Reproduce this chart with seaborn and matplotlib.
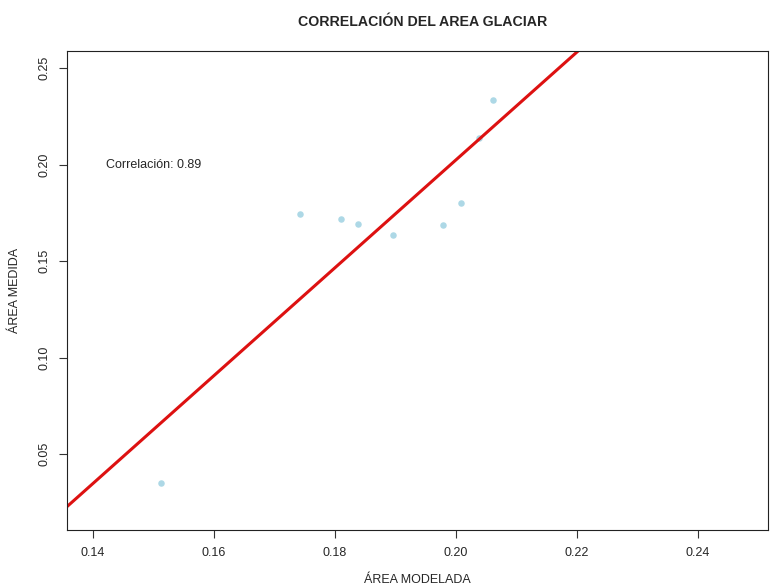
import numpy as np
import pandas as pd
import matplotlib
matplotlib.use("Agg")
import matplotlib.pyplot as plt
import seaborn as sns

# --- DATA ---
area_modelada = [0.1513, 0.1743, 0.1810, 0.1838, 0.1896, 0.1978, 0.2009, 0.2038, 0.2062]
area_medida = [0.0350, 0.1745, 0.1719, 0.1690, 0.1636, 0.1687, 0.1801, 0.2141, 0.2338]
x_ticks = [0.14, 0.16, 0.18, 0.20, 0.22, 0.24]
y_ticks = [0.05, 0.10, 0.15, 0.20, 0.25]
titulo = "CORRELACIÓN DEL AREA GLACIAR"

df = pd.DataFrame({"modelada": area_modelada, "medida": area_medida})
corr = df["modelada"].corr(df["medida"])

sns.set_style("ticks")
plt.rcParams["font.family"] = ["Liberation Sans", "DejaVu Sans"]

fig = plt.figure(figsize=(7.72, 5.87), dpi=100)
ax = fig.add_axes([0.0864, 0.0971, 0.9086, 0.8165])

# limits first: with truncate=False the fit line spans the current x range
ax.set_xlim(0.1357, 0.2516)
ax.set_ylim(0.0106, 0.2591)

# regression line (as abline(lm(...)) in the original) fitted to the data
sns.regplot(data=df, x="modelada", y="medida", ax=ax, ci=None, truncate=False,
            scatter_kws={"color": "#add8e6", "s": 22, "alpha": 1, "linewidths": 0},
            line_kws={"color": "#dd1111", "lw": 2.2})
ax.set_xlim(0.1357, 0.2516)
ax.set_ylim(0.0106, 0.2591)

ax.text(0.15, 0.20, f"Correlación: {corr:.2f}", ha="center", va="center", fontsize=9)

ax.set_xticks(x_ticks)
ax.set_xticklabels([f"{t:.2f}" for t in x_ticks])
ax.set_yticks(y_ticks)
ax.set_yticklabels([f"{t:.2f}" for t in y_ticks], rotation=90, va="center")
ax.tick_params(direction="out", length=6, width=0.8, labelsize=9, pad=6, color="#333333")

for sp in ax.spines.values():
    sp.set_visible(True)
    sp.set_linewidth(0.8)
    sp.set_color("#222222")

ax.set_xlabel("ÁREA MODELADA", fontsize=9, labelpad=11)
ax.set_ylabel("ÁREA MEDIDA", fontsize=9, labelpad=12)
fig.suptitle(titulo, fontsize=10.2, fontweight="bold", x=0.548, y=0.975)

fig.savefig("out.png", dpi=100, facecolor="white")
